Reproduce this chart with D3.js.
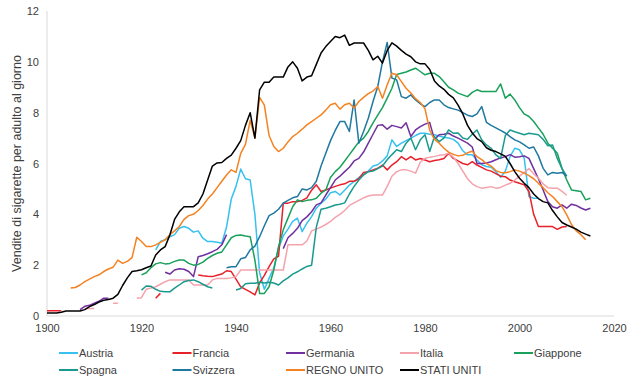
<!DOCTYPE html>
<html><head><meta charset="utf-8">
<script src="https://cdn.jsdelivr.net/npm/d3@7"></script>
<style>body{margin:0;background:#fff}svg{display:block;font-family:"Liberation Sans",Arial,sans-serif}</style>
</head><body><svg id="c" width="640" height="386"></svg>
<script>
// ---- data (annual values, null = gap) ----
const xTicks = [1900, 1920, 1940, 1960, 1980, 2000, 2020];
const yTicks = [0, 2, 4, 6, 8, 10, 12];
const names = ["Austria","Francia","Germania","Italia","Giappone","Spagna","Svizzera","REGNO UNITO","STATI UNITI"];
const colors = ["#37c1ee","#e8202a","#7030a0","#f4a3ad","#19a05a","#1a9a8e","#1f78a0","#f58220","#000000"];
const startYears = [1923, 1900, 1907, 1908, 1920, 1920, 1938, 1905, 1900];

const austria = [2.6,2.93,3.0,3.12,3.2,3.45,3.52,
 3.45,3.3,3.35,3.06,2.93,2.93,2.9,2.86,3.5,4.6,
 5.1,5.78,5.4,5.35,4.0,1.7,1.05,1.48,1.9,2.65,
 3.15,3.42,3.72,3.85,3.32,3.65,3.91,4.24,4.44,4.6,
 4.85,4.9,4.76,4.95,5.15,5.3,5.45,5.55,5.7,5.9,
 5.95,6.1,6.3,6.93,6.67,6.8,6.9,7.0,7.1,7.19,
 7.19,7.15,7.13,7.08,7.03,7.0,6.95,6.8,6.5,6.34,
 6.34,6.14,5.95,5.88,5.85,5.68,5.46,5.7,6.27,6.6,
 6.54,6.2,4.7,4.63,4.63];
const francia = [0.21,0.21,0.21,0.21,null,null,null,null,null,null,
 null,null,null,null,null,null,null,null,null,null,
 null,null,null,0.7,0.89,null,null,null,null,null,
 null,null,1.61,1.58,1.56,1.55,1.6,1.65,1.78,1.75,
 1.45,1.15,1.05,0.95,0.83,1.3,1.6,1.94,2.25,2.35,
 4.44,4.44,4.5,4.5,4.55,4.65,4.95,5.16,4.9,4.96,
 5.03,5.1,5.16,5.2,5.3,5.3,5.4,5.65,5.68,5.75,
 5.81,5.94,5.75,5.94,6.07,6.27,6.14,6.27,6.14,6.2,
 6.14,6.07,6.12,6.15,6.2,6.4,6.2,6.1,6.0,5.95,
 6.07,5.94,5.85,5.75,5.7,5.6,5.5,5.48,5.35,5.28,
 5.22,5.16,4.9,4.0,3.52,3.52,3.52,3.52,3.41,3.5,
 3.52];
const germania = [0.25,0.38,0.42,0.5,0.58,0.7,0.7,
 null,null,null,null,null,null,null,null,null,null,null,
 1.72,1.65,1.81,1.86,1.84,1.75,1.55,2.33,2.38,2.45,2.53,2.62,2.8,3.2,
 null,null,null,null,null,null,null,null,null,null,null,
 2.65,3.08,3.25,3.45,3.75,3.9,4.1,4.37,4.45,4.76,
 5.05,5.35,5.5,5.68,5.85,6.1,6.2,6.45,6.8,7.15,
 7.5,7.52,7.35,7.5,7.45,7.4,7.6,7.06,7.32,7.45,
 7.55,7.61,6.95,7.13,7.15,7.19,7.08,7.0,6.9,6.8,
 6.65,6.0,6.0,6.02,6.07,6.15,6.22,6.27,6.35,6.25,
 6.27,6.3,6.2,5.8,5.4,4.96,4.5,4.3,4.24,4.37,
 4.24,4.4,4.35,4.25,4.17,4.24];
const italia = [0.3,0.3,0.3,null,null,null,0.5,0.5,null,null,null,
 0.7,0.72,1.05,1.1,1.15,1.25,1.35,1.42,1.42,1.42,1.42,
 1.42,1.22,1.22,1.22,1.22,1.42,1.48,1.48,1.48,1.5,
 1.55,1.81,1.81,1.81,1.81,1.81,1.81,1.81,1.81,1.81,
 1.81,2.8,2.8,2.8,2.8,2.95,3.35,3.42,3.5,3.6,
 3.72,3.88,4.0,4.15,4.35,4.45,4.55,4.65,4.72,4.76,
 4.76,4.76,5.1,5.5,5.68,5.75,5.75,5.7,5.62,6.05,
 6.2,6.25,6.28,6.32,6.34,6.4,6.25,6.0,5.7,5.4,
 5.2,5.09,5.03,5.06,5.09,5.03,5.06,5.15,5.22,5.35,
 5.5,5.65,5.8,5.6,5.42,5.2,5.05,5.03,5.03,4.9,
 4.75];
const giappone = [1.62,1.7,1.9,2.05,2.1,2.05,2.07,2.15,2.2,2.2,
 2.07,2.0,2.03,2.12,2.27,2.38,2.47,2.52,2.8,3.08,
 3.17,3.19,3.15,3.12,2.2,0.89,0.89,1.15,1.81,2.73,
 3.39,3.85,4.3,4.57,4.5,4.55,4.57,4.63,4.83,4.96,
 5.45,5.68,5.85,6.1,6.35,6.6,6.85,7.0,7.26,7.6,
 7.9,8.2,8.57,8.96,9.5,9.55,9.6,9.68,9.75,9.62,
 9.49,9.55,9.55,9.42,9.22,9.0,8.9,8.77,8.7,8.63,
 8.8,8.9,8.83,8.83,8.83,8.83,9.13,8.57,8.73,8.5,
 8.2,7.95,7.85,7.65,7.4,7.15,6.8,6.6,6.4,5.8,
 5.35,4.96,4.93,4.9,4.57,4.63];
const spagna = [1.02,1.18,1.17,1.05,0.97,0.95,0.95,1.1,1.22,1.35,
 1.4,1.42,1.35,1.25,1.15,1.1,null,null,null,null,
 1.02,1.08,1.27,1.29,1.29,1.33,1.3,1.33,1.3,1.22,
 1.38,1.5,1.65,1.74,1.85,1.95,2.0,3.5,4.2,4.24,
 4.3,4.37,4.4,4.45,4.8,5.1,5.35,5.55,5.68,5.7,
 5.8,5.9,6.15,6.35,6.54,6.47,6.8,7.0,6.54,6.93,
 7.13,6.47,7.06,6.86,7.0,7.32,7.19,7.2,7.0,6.95,
 7.15,7.32,6.93,6.73,6.6,6.34,6.2,7.1,7.32,7.25,
 7.19,7.13,7.19,7.16,7.13,6.95,6.7,6.73,6.2,5.8,
 5.5];
const svizzera = [1.9,1.94,
 1.94,2.25,2.3,2.6,2.75,3.12,3.55,3.95,4.05,4.2,
 4.44,4.55,4.65,4.7,5.0,4.96,5.05,5.3,5.9,6.4,
 6.9,7.3,7.65,7.65,7.26,8.5,6.8,7.26,7.78,8.44,
 9.03,10.0,10.76,9.36,9.29,8.63,8.57,8.7,8.5,8.35,
 8.24,8.4,8.5,8.5,8.31,8.2,8.15,8.1,8.0,7.9,
 7.85,7.95,8.24,7.62,7.5,7.4,7.3,7.2,7.06,6.93,
 6.85,6.73,6.6,6.65,6.3,5.81,5.55,5.65,5.62,5.65,
 5.5];
const regnoUnito = [1.1,1.12,1.22,1.35,1.45,
 1.55,1.62,1.75,1.85,1.92,2.2,2.07,2.15,2.3,3.1,
 2.93,2.73,2.73,2.8,2.9,3.0,3.2,3.35,3.52,3.8,
 3.95,4.0,4.15,4.35,4.6,4.8,5.05,5.3,5.55,5.75,
 5.65,6.4,6.75,7.7,7.0,8.6,8.3,7.1,6.67,6.47,
 6.6,6.85,7.06,7.19,7.35,7.52,7.65,7.78,7.91,8.1,
 8.31,8.37,8.14,8.31,8.37,8.18,8.44,8.6,8.75,8.85,
 9.03,8.57,9.1,9.55,9.49,9.22,8.96,8.77,8.55,8.4,
 8.15,7.3,6.95,6.8,6.6,6.45,6.36,6.3,6.32,6.42,
 6.48,6.27,6.15,6.0,5.9,5.72,5.65,5.64,5.68,5.75,
 5.7,5.62,5.52,5.4,5.22,5.05,4.85,4.7,4.5,4.3,
 3.98,3.6,3.35,3.2,3.0];
const statiUniti = [0.12,0.12,0.12,0.15,0.2,0.2,0.2,0.2,0.25,0.37,
 0.45,0.55,0.62,0.65,0.7,0.85,1.2,1.5,1.75,1.78,
 1.82,1.9,1.97,2.4,2.6,2.73,3.19,3.8,4.1,4.3,
 4.3,4.3,4.45,4.8,5.35,5.9,6.02,6.04,6.2,6.33,
 6.6,6.9,7.5,8.0,7.0,8.9,9.2,9.2,9.4,9.4,
 9.4,9.8,10.0,9.75,9.25,9.4,9.45,9.9,10.35,10.6,
 10.8,11.0,10.95,11.05,10.65,10.74,10.74,10.74,10.45,10.08,
 10.22,9.95,10.45,10.75,10.62,10.45,10.3,10.2,10.0,9.92,
 9.92,9.7,9.25,9.05,8.92,8.72,8.58,8.3,7.95,7.5,
 7.2,6.98,6.86,6.62,6.52,6.47,6.38,6.28,6.0,5.68,
 5.42,5.22,5.05,4.8,4.62,4.5,4.45,4.15,3.9,3.68,
 3.58,3.5,3.42,3.3,3.22,3.15];

const valueArrays = [austria, francia, germania, italia, giappone, spagna, svizzera, regnoUnito, statiUniti];
const series = names.map((n, i) => ({
  name: n, color: colors[i],
  points: valueArrays[i].map((v, k) => ({year: startYears[i] + k, value: v}))
}));

// ---- chart ----
const svg = d3.select("#c");
const x = d3.scaleLinear().domain([1900, 2020]).range([47, 614]);
const y = d3.scaleLinear().domain([0, 12]).range([316, 11]);
const textColor = "#404040";
const fontSize = "11px";

svg.append("line").attr("x1", x(1900)).attr("x2", x(1900)).attr("y1", y(12)).attr("y2", y(0))
  .attr("stroke", "#d9d9d9").attr("stroke-width", 1);
svg.append("line").attr("x1", x(1900)).attr("x2", x(2020)).attr("y1", y(0)).attr("y2", y(0))
  .attr("stroke", "#d9d9d9").attr("stroke-width", 1);

const yAxis = svg.append("g").attr("transform", `translate(${x(1900)},0)`)
  .call(d3.axisLeft(y).tickValues(yTicks).tickSize(0).tickPadding(8).tickFormat(d3.format("d")));
yAxis.select(".domain").remove();
yAxis.selectAll("text").attr("fill", textColor).style("font-size", fontSize).style("font-family", "Liberation Sans, Arial, sans-serif");

const xAxis = svg.append("g").attr("transform", `translate(0,${y(0)})`)
  .call(d3.axisBottom(x).tickValues(xTicks).tickSize(0).tickPadding(8).tickFormat(d3.format("d")));
xAxis.select(".domain").remove();
xAxis.selectAll("text").attr("fill", textColor).style("font-size", fontSize).style("font-family", "Liberation Sans, Arial, sans-serif");

svg.append("text").attr("transform", `translate(17,${(y(0) + y(12)) / 2}) rotate(-90)`)
  .attr("text-anchor", "middle").attr("dominant-baseline", "central")
  .attr("fill", textColor).style("font-size", "12.5px")
  .text("Vendite di sigarette per adulto al giorno");

const line = d3.line().defined(d => d.value != null).x(d => x(d.year)).y(d => y(d.value));
svg.append("g").selectAll("path").data(series).join("path")
  .attr("d", d => line(d.points)).attr("fill", "none")
  .attr("stroke", d => d.color).attr("stroke-width", 1.5)
  .attr("stroke-linejoin", "round");

const colX = [59, 172.5, 286, 400, 514];
const rowY = [353, 370];
const leg = svg.append("g").selectAll("g").data(series).join("g")
  .attr("transform", (d, i) => `translate(${colX[i % 5]},${rowY[Math.floor(i / 5)]})`);
leg.append("line").attr("x1", 0).attr("x2", 19).attr("y1", 0).attr("y2", 0)
  .attr("stroke", d => d.color).attr("stroke-width", 2);
leg.append("text").attr("x", 20).attr("y", 0).attr("dominant-baseline", "central")
  .attr("fill", textColor).style("font-size", fontSize).text(d => d.name);
</script></body></html>
